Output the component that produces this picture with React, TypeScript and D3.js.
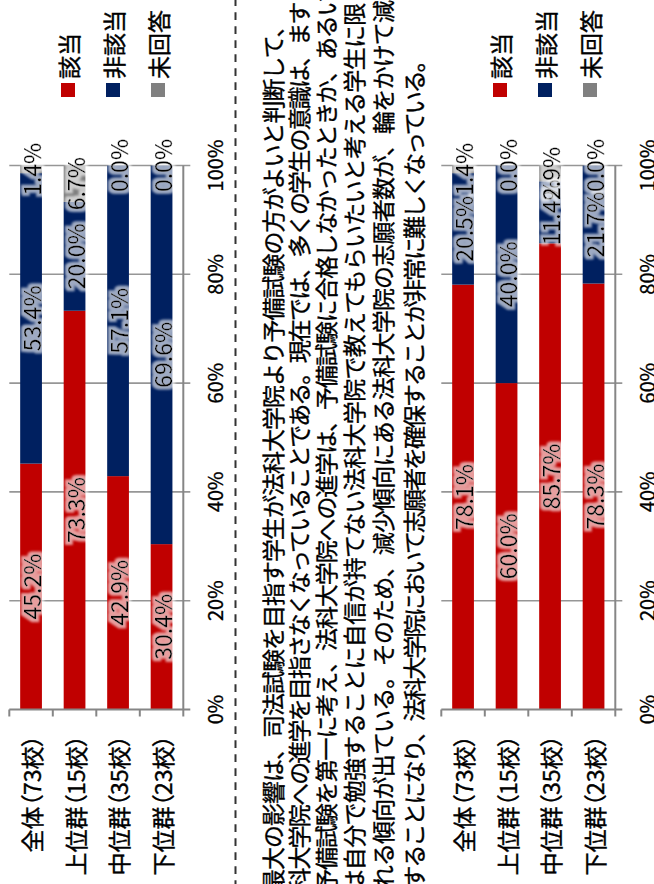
import React from 'react';
import * as d3 from 'd3';

const categories = ['全体（73校）', '上位群（15校）', '中位群（35校）', '下位群（23校）'];
const seriesNames = ['該当', '非該当', '未回答'];
const seriesColors = ['#C00000', '#002060', '#808080'];

const upperApplicable = [45.2, 73.3, 42.9, 30.4];
const upperNotApplicable = [53.4, 20.0, 57.1, 69.6];
const upperNoAnswer = [1.4, 6.7, 0.0, 0.0];

const lowerApplicable = [78.1, 60.0, 85.7, 78.3];
const lowerNotApplicable = [20.5, 40.0, 11.4, 21.7];
const lowerNoAnswer = [1.4, 0.0, 2.9, 0.0];

const valueTicks = [0, 20, 40, 60, 80, 100];

const paragraphLines = [
  '最大の影響は、司法試験を目指す学生が法科大学院より予備試験の方がよいと判断して、',
  '法科大学院への進学を目指さなくなっていることである。現在では、多くの学生の意識は、ますます',
  '予備試験を第一に考え、法科大学院への進学は、予備試験に合格しなかったときか、あるい',
  'は自分で勉強することに自信が持てない法科大学院で教えてもらいたいと考える学生に限られ',
  'られる傾向が出ている。そのため、減少傾向にある法科大学院の志願者数が、輪をかけて減少',
  '少することになり、法科大学院において志願者を確保することが非常に難しくなっている。',
];

// layout of paragraph lines (in page coordinates of the rotated sheet)
const lineLayout = [
  { cy: 272, anchor: 1, at: 859, pitch: 22.0 },
  { cy: 298, anchor: 2, at: 859, pitch: 21.18 },
  { cy: 325, anchor: 1, at: 859, pitch: 21.9 },
  { cy: 353, anchor: 1, at: 859, pitch: 22.3 },
  { cy: 382, anchor: 2, at: 855, pitch: 22.2 },
  { cy: 413, anchor: 2, at: 857, pitch: 21.0 },
];

const W = 884;
const FONT = "'Noto Sans CJK JP', 'Noto Sans', sans-serif";
const PFS = 23;

function Chart({ offset, series }: { offset: number; series: number[][] }) {
  const x = d3.scaleLinear().domain([0, 100]).range([174.5, 718.5]);
  const y = d3
    .scaleBand<string>()
    .domain(categories)
    .range([9.3 + offset, 183.3 + offset])
    .paddingInner(0.5)
    .paddingOuter(0.25);
  const step = y.step();
  const axisY = 183.3 + offset;
  const top = 9.3 + offset;
  const grid = '#969696';

  const stacks = categories.map((c, i) => {
    let cum = 0;
    return series.map((s, k) => {
      const v = s[i];
      const seg = { k, v, x0: cum, x1: cum + v };
      cum += v;
      return seg;
    });
  });

  return (
    <g>
      {valueTicks.filter((t) => t > 0).map((t) => (
        <line key={'g' + t} x1={x(t)} x2={x(t)} y1={top} y2={axisY + 7} stroke={grid} strokeWidth={1.6} />
      ))}
      {stacks.map((segs, i) =>
        segs.map((s) => (
          <rect
            key={`b${i}-${s.k}`}
            x={x(s.x0)}
            width={Math.max(0, x(s.x1) - x(s.x0))}
            y={y(categories[i])!}
            height={y.bandwidth()}
            fill={seriesColors[s.k]}
          />
        ))
      )}
      <line x1={x(0)} x2={x(100)} y1={axisY} y2={axisY} stroke="#868686" strokeWidth={2} />
      <line x1={x(0)} x2={x(0)} y1={top} y2={axisY + 7} stroke="#868686" strokeWidth={2} />
      {d3.range(categories.length + 1).map((j) => (
        <line key={'t' + j} x1={x(0) - 7} x2={x(0)} y1={top + j * step} y2={top + j * step} stroke="#868686" strokeWidth={2} />
      ))}
      {valueTicks.map((t) => (
        <text key={'vl' + t} x={x(t)} y={214 + offset} textAnchor="middle" dominantBaseline="central" fontSize={20} fill="#000" stroke="#000" strokeWidth={0.3}>
          {t}%
        </text>
      ))}
      {categories.map((c) => (
        <text
          key={'cl' + c}
          x={149}
          y={y(c)! + y.bandwidth() / 2}
          textAnchor="end"
          dominantBaseline="central"
          fontSize={23}
          fill="#000"
          stroke="#000"
          strokeWidth={0.4}
          style={{ fontFeatureSettings: '"palt"' }}
        >
          {c}
        </text>
      ))}
      {stacks.map((segs, i) =>
        segs.map((s) => (
          <text
            key={`dl${i}-${s.k}`}
            x={x((s.x0 + s.x1) / 2)}
            y={y(categories[i])! + y.bandwidth() / 2}
            textAnchor="middle"
            dominantBaseline="central"
            fontSize={23}
            fill="#000"
            stroke="#000"
            strokeWidth={0.25}
            filter="url(#glow)"
          >
            {s.v.toFixed(1)}%
          </text>
        ))
      )}
      {seriesNames.map((n, k) => (
        <g key={'lg' + n}>
          <rect x={787} y={61 + offset + k * 45} width={14} height={14} fill={seriesColors[k]} />
          <text x={805} y={68 + offset + k * 45} dominantBaseline="central" fontSize={23} fill="#000" stroke="#000" strokeWidth={0.4}>
            {n}
          </text>
        </g>
      ))}
    </g>
  );
}

export default function App() {
  React.useEffect(() => {
    document.body.style.margin = '0';
  }, []);
  return (
    <svg
      width={654}
      height={884}
      style={{ position: 'absolute', left: 0, top: 0, background: '#fff' }}
      fontFamily={FONT}
    >
      <defs>
        <filter id="glow" x="-20%" y="-50%" width="140%" height="200%">
          <feMorphology in="SourceAlpha" operator="dilate" radius={2.5} result="d" />
          <feGaussianBlur in="d" stdDeviation={1.3} result="b" />
          <feFlood floodColor="#ffffff" floodOpacity={0.62} result="f" />
          <feComposite in="f" in2="b" operator="in" result="g" />
          <feMerge>
            <feMergeNode in="g" />
            <feMergeNode in="SourceGraphic" />
          </feMerge>
        </filter>
      </defs>
      <rect width={654} height={884} fill="#fff" />
      <g transform={`translate(0,${W}) rotate(-90)`}>
        <Chart offset={0} series={[upperApplicable, upperNotApplicable, upperNoAnswer]} />
        <line x1={0} x2={W} y1={235.5} y2={235.5} stroke="#333" strokeWidth={2} strokeDasharray="7.7 6.3" strokeDashoffset={4} />
        {paragraphLines.map((t, i) => {
          const L = lineLayout[i];
          const startX = W - L.at - L.anchor * L.pitch - L.pitch / 2;
          return (
            <text
              key={'p' + i}
              x={startX}
              y={L.cy}
              dominantBaseline="central"
              fontSize={PFS}
              letterSpacing={L.pitch - PFS}
              fill="#000"
              stroke="#000"
              strokeWidth={0.35}
            >
              {t}
            </text>
          );
        })}
        <Chart offset={432} series={[lowerApplicable, lowerNotApplicable, lowerNoAnswer]} />
      </g>
    </svg>
  );
}
